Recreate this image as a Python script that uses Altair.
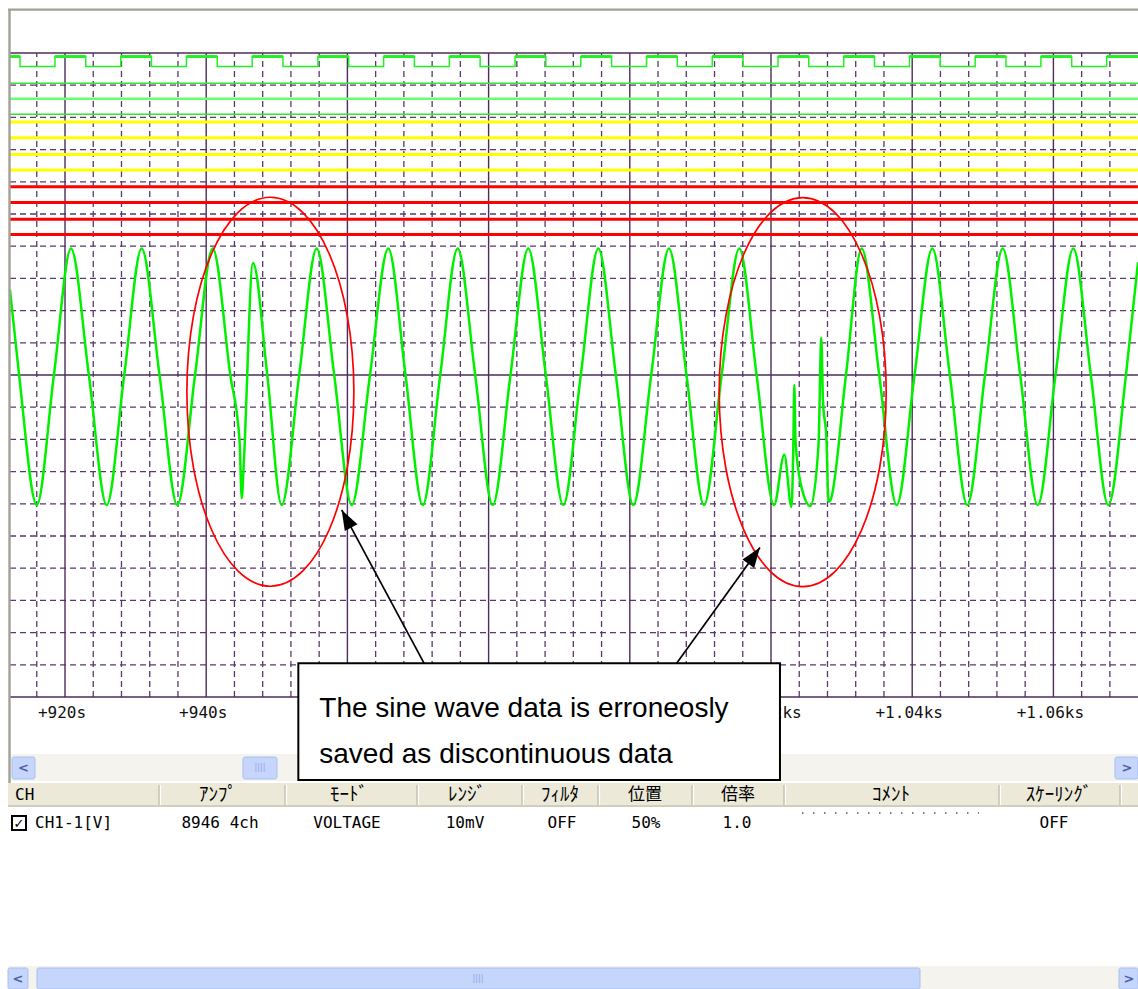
import math
import altair as alt
import pandas as pd

W, H = 1138, 989

# ------------------------------------------------------------------
# DATA
# x = time in seconds, y = screen divisions (centre line 0, top +10, bottom -10)
# ------------------------------------------------------------------
major_t = [920, 940, 960, 980, 1000, 1020, 1040, 1060]
# tick labels that are visible (the others lie under the note box)
label_t = [920, 940, 1020, 1040, 1060]
tick_labels = ["+920s", "+940s", "+1.02ks", "+1.04ks", "+1.06ks"]
minor_t = [916, 924, 928, 932, 936, 944, 948, 952, 956, 964, 968, 972, 976,
           984, 988, 992, 996, 1004, 1008, 1012, 1016, 1024, 1028, 1032, 1036,
           1044, 1048, 1052, 1056, 1064, 1068]
major_v = [10, 0, -10]
minor_v = [9, 8, 7, 6, 5, 4, 3, 2, 1, -1, -2, -3, -4, -5, -6, -7, -8, -9]

t_start, t_end = 912.21, 1071.98

# analog channel (green sine) : extremes, zero crossings and glitch points
sine_points = [
    (912.21, 2.64), (913.5, 0), (916.0, -4.04), (918.43, 0), (920.85, 3.93),
    (923.38, 0), (925.91, -4.04), (928.39, 0), (930.86, 3.93), (933.39, 0),
    (935.91, -4.04), (938.42, 0), (940.92, 3.93),
    # first discontinuity
    (943.41, 0), (944.72, -2.02), (945.04, -3.82), (945.28, -2.95), (946.63, 3.48),
    (948.65, 0), (950.69, -4.04),
    (953.17, 0), (955.65, 3.93), (958.13, 0), (960.61, -4.04), (963.2, 0),
    (965.79, 3.93), (968.23, 0), (970.67, -4.04), (973.15, 0), (975.62, 3.93),
    (978.1, 0), (980.58, -4.04), (983.1, 0), (985.62, 3.93), (988.1, 0),
    (990.58, -4.04), (993.06, 0), (995.54, 3.93), (998.02, 0), (1000.5, -4.04),
    (1003.03, 0), (1005.55, 3.93), (1008.03, 0), (1010.51, -4.04), (1013.01, 0),
    (1015.51, 3.93),
    # second discontinuity
    (1017.96, 0), (1020.43, -4.04), (1021.88, -2.48), (1022.9, -4.10),
    (1023.16, -2.24), (1023.3, -0.31), (1023.47, -2.02), (1024.25, -3.42),
    (1025.6, -4.07), (1026.73, -2.17), (1027.12, 1.15), (1027.36, -0.78),
    (1027.86, -2.02), (1028.14, -3.94), (1028.43, -3.88),
    (1030.62, 0), (1032.85, 3.93), (1035.33, 0), (1037.8, -4.04), (1040.33, 0),
    (1042.85, 3.93), (1045.33, 0), (1047.8, -4.04), (1050.31, 0), (1052.82, 3.93),
    (1055.3, 0), (1057.78, -4.04), (1060.3, 0), (1062.82, 3.93), (1065.3, 0),
    (1067.78, -4.04), (1070.28, 0), (1071.98, 3.5),
]

# logic channel (pulse train) edges
pulse_fall = [913.63, 922.94, 932.25, 941.56, 950.87, 960.18, 969.49, 978.80, 988.11,
              997.42, 1006.73, 1016.04, 1025.35, 1034.66, 1043.97, 1053.28, 1062.59]
pulse_rise = [918.58, 927.89, 937.20, 946.51, 955.82, 965.13, 974.44, 983.75, 993.06,
              1002.37, 1011.68, 1020.99, 1030.30, 1039.61, 1048.92, 1058.23, 1067.54]
pulse_high, pulse_low = 9.89, 9.58

# flat logic traces
green_levels = [9.06, 8.58, 8.10]
yellow_levels = [7.86, 7.37, 6.85, 6.37]
red_levels = [5.85, 5.36, 4.84, 4.36]

header_labels = ["CH", "ｱﾝﾌﾟ", "ﾓｰﾄﾞ", "ﾚﾝｼﾞ", "ﾌｨﾙﾀ", "位置", "倍率", "ｺﾒﾝﾄ", "ｽｹｰﾘﾝｸﾞ"]
row_values = ["CH1-1[V]", "8946 4ch", "VOLTAGE", "10mV", "OFF", "50%", "1.0", "", "OFF"]
note_lines = ["The sine wave data is erroneosly", "saved as discontinuous data"]

# annotation placement (data units)
ellipse_centers = [(949.09, -0.52), (1024.49, -0.53)]
arrow_pairs = [((970.85, -8.95), (959.19, -4.19)), ((1006.64, -8.95), (1018.44, -5.36))]
note_box = dict(t0=953.05, t1=1021.27, v0=-8.95, v1=-12.58)
note_t = 956.02
note_v = [-10.61, -12.06]

# ------------------------------------------------------------------
# LAYOUT / STYLE
# ------------------------------------------------------------------
PX_T920, PX_PER_S, PX_V0, PX_PER_DIV = 65.0, 7.06, 375.0, 32.2
T_LEFT = 920 - PX_T920 / PX_PER_S
T_RIGHT = 920 + (W - PX_T920) / PX_PER_S
V_TOP = PX_V0 / PX_PER_DIV
V_BOTTOM = (PX_V0 - H) / PX_PER_DIV

GRID_MAJOR = "#4e2b5c"
GRID_MINOR = "#5a386b"
MONO = "DejaVu Sans Mono"
JP = "Noto Sans CJK JP"

TX = alt.Scale(domain=[T_LEFT, T_RIGHT], nice=False, zero=False)
VY = alt.Scale(domain=[V_BOTTOM, V_TOP], nice=False, zero=False)
UX = alt.Scale(domain=[0, W], nice=False, zero=False)
UY = alt.Scale(domain=[0, H], nice=False, zero=False, reverse=True)


def X(f):
    return alt.X(f, type="quantitative", scale=TX, axis=None)


def Y(f):
    return alt.Y(f, type="quantitative", scale=VY, axis=None)


def UXe(f):
    return alt.X(f, type="quantitative", scale=UX, axis=None)


def UYe(f):
    return alt.Y(f, type="quantitative", scale=UY, axis=None)


# ---------------- plot group ----------------
vgrid_major = pd.DataFrame({"t": major_t, "v0": -10, "v1": 10})
vgrid_minor = pd.DataFrame({"t": minor_t, "v0": -10, "v1": 10})
hgrid_major = pd.DataFrame({"v": major_v, "t0": t_start, "t1": t_end})
hgrid_minor = pd.DataFrame({"v": minor_v, "t0": t_start, "t1": t_end})

plot_layers = []
plot_layers.append(alt.Chart(hgrid_minor).mark_rule(color=GRID_MINOR, strokeWidth=1.3, strokeDash=[6, 4])
                   .encode(x=X("t0"), x2=alt.X2("t1"), y=Y("v")))
plot_layers.append(alt.Chart(vgrid_minor).mark_rule(color=GRID_MINOR, strokeWidth=1.3, strokeDash=[6, 4])
                   .encode(x=X("t"), y=Y("v0"), y2=alt.Y2("v1")))
plot_layers.append(alt.Chart(hgrid_major).mark_rule(color=GRID_MAJOR, strokeWidth=1.4)
                   .encode(x=X("t0"), x2=alt.X2("t1"), y=Y("v")))
plot_layers.append(alt.Chart(vgrid_major).mark_rule(color=GRID_MAJOR, strokeWidth=1.4)
                   .encode(x=X("t"), y=Y("v0"), y2=alt.Y2("v1")))

# flat traces
level_style = [
    (green_levels, ["#2fe82f", "#6aff6a", "#2fe82f"], [1.6, 2.4, 1.6]),
    (yellow_levels, ["#ffff00"] * 4, [3] * 4),
    (red_levels, ["#ff0000"] * 4, [3] * 4),
]
for levels, colors, widths in level_style:
    for v, c, w in zip(levels, colors, widths):
        df = pd.DataFrame({"v": [v], "t0": [t_start], "t1": [t_end]})
        plot_layers.append(alt.Chart(df).mark_rule(color=c, strokeWidth=w)
                           .encode(x=X("t0"), x2=alt.X2("t1"), y=Y("v")))

# pulse train
events = sorted([(t, pulse_low) for t in pulse_fall] + [(t, pulse_high) for t in pulse_rise])
pulse_rows = [(t_start, pulse_high)] + events + [(t_end, events[-1][1])]
pulse_df = pd.DataFrame(pulse_rows, columns=["t", "v"])
plot_layers.append(alt.Chart(pulse_df).mark_line(color="#22f022", strokeWidth=1.5, interpolate="step-after")
                   .encode(x=X("t"), y=Y("v")))
high_starts = [t_start] + pulse_rise
high_ends = pulse_fall + [t_end]
high_df = pd.DataFrame({"t0": high_starts, "t1": high_ends, "v": pulse_high})
plot_layers.append(alt.Chart(high_df).mark_rule(color="#22f022", strokeWidth=3)
                   .encode(x=X("t0"), x2=alt.X2("t1"), y=Y("v")))

# sine trace
sine_df = pd.DataFrame(sine_points, columns=["t", "v"])
plot_layers.append(alt.Chart(sine_df).mark_line(color="#00f000", strokeWidth=2.5, interpolate="monotone")
                   .encode(x=X("t"), y=Y("v")))

# time labels
lab_df = pd.DataFrame({"t": label_t, "v": -10, "label": tick_labels})
plot_layers.append(alt.Chart(lab_df).mark_text(font=MONO, fontSize=16, color="#111111",
                                               align="center", baseline="middle", dx=-3, dy=15.5)
                   .encode(x=X("t"), y=Y("v"), text="label:N"))

# ellipses
RX, RY = 83.5, 194.5
a = RX / RY
k = 0.5523 * a
kk = 0.5523
ellipse_path = (f"M 0 -1 C {k:.4f} -1 {a:.4f} {-kk:.4f} {a:.4f} 0 "
                f"C {a:.4f} {kk:.4f} {k:.4f} 1 0 1 "
                f"C {-k:.4f} 1 {-a:.4f} {kk:.4f} {-a:.4f} 0 "
                f"C {-a:.4f} {-kk:.4f} {-k:.4f} -1 0 -1 Z")
ell_df = pd.DataFrame(ellipse_centers, columns=["t", "v"])
plot_layers.append(alt.Chart(ell_df).mark_point(shape=ellipse_path, size=(2 * RY) ** 2, filled=False,
                                                color="#ff0000", strokeWidth=1.7, opacity=1)
                   .encode(x=X("t"), y=Y("v")))

# note box
box_df = pd.DataFrame([note_box])
plot_layers.append(alt.Chart(box_df).mark_rect(fill="white", stroke="black", strokeWidth=2)
                   .encode(x=X("t0"), x2=alt.X2("t1"), y=Y("v0"), y2=alt.Y2("v1")))

# arrows
arr_rows = []
for (t0, v0), (t1, v1) in arrow_pairs:
    dxp = (t1 - t0) * PX_PER_S
    dyp = -(v1 - v0) * PX_PER_DIV
    ang = math.degrees(math.atan2(dxp, -dyp)) % 360
    arr_rows.append(dict(t0=t0, v0=v0, t1=t1, v1=v1, angle=ang))
arr_df = pd.DataFrame(arr_rows)
plot_layers.append(alt.Chart(arr_df).mark_rule(color="black", strokeWidth=1.7)
                   .encode(x=X("t0"), y=Y("v0"), x2=alt.X2("t1"), y2=alt.Y2("v1")))
plot_layers.append(alt.Chart(arr_df).mark_point(shape="M 0 0 L 0.36 1 L -0.36 1 Z", size=1600,
                                                filled=True, color="black", opacity=1, strokeWidth=0)
                   .encode(x=X("t1"), y=Y("v1"), angle=alt.Angle("angle:Q", scale=None)))

# note text
note_df = pd.DataFrame({"t": note_t, "v": note_v, "txt": note_lines})
plot_layers.append(alt.Chart(note_df).mark_text(font="Liberation Sans", fontSize=28, color="black",
                                                align="left", baseline="alphabetic")
                   .encode(x=X("t"), y=Y("v"), text="txt:N"))

plot = alt.layer(*plot_layers)

# ---------------- UI group (pixel layout) ----------------
flat_rects = pd.DataFrame([
    dict(x=10, x2=W, y=754, y2=781, fill="#f4f3ee"),
    dict(x=8, x2=W, y=783, y2=807, fill="#ece9d8"),
    dict(x=8, x2=W, y=966, y2=H, fill="#f4f3ee"),
])
buttons = pd.DataFrame([
    dict(x=12, x2=35, y=757, y2=779), dict(x=243, x2=277, y=757, y2=779), dict(x=1115, x2=W, y=757, y2=779),
    dict(x=8, x2=28, y=968, y2=H), dict(x=37, x2=920, y=968, y2=H), dict(x=1119, x2=W, y=968, y2=H),
])
chevrons = pd.DataFrame([
    dict(x=23.5, y=768, s="<"), dict(x=1127, y=768, s=">"),
    dict(x=18, y=978.5, s="<"), dict(x=1129, y=978.5, s=">"),
])
grips = pd.DataFrame([dict(x=260, y=768, s="||||"), dict(x=478, y=978.5, s="||||")])
sep_x = [159, 285, 417, 522, 598, 692, 784, 999, 1120]
seps = pd.DataFrame({"x": sep_x, "y": 785, "y2": 806})
seps_w = pd.DataFrame({"x": [s + 1.5 for s in sep_x], "y": 785, "y2": 806})
header_bottom = pd.DataFrame({"x": [8], "x2": [W], "y": [806]})

col_centers = [None, 218, 349, 467, 560, 645, 738, 891, 1059]
row_centers = [None, 220, 347, 465, 562, 646, 737, None, 1054]
kanji_cols = {5, 6}
hdr_kana = pd.DataFrame([dict(x=c, y=795, s=s) for i, (c, s) in enumerate(zip(col_centers, header_labels))
                         if c is not None and i not in kanji_cols])
hdr_kanji = pd.DataFrame([dict(x=c, y=795, s=s) for i, (c, s) in enumerate(zip(col_centers, header_labels))
                          if c is not None and i in kanji_cols])
hdr_l = pd.DataFrame([dict(x=15, y=795, s=header_labels[0])])
row_c = pd.DataFrame([dict(x=c, y=823, s=s) for c, s in zip(row_centers, row_values) if c is not None and s])
row_l = pd.DataFrame([dict(x=35, y=823, s=row_values[0])])
checkbox = pd.DataFrame([dict(x=12, x2=26, y=816, y2=830)])
check = pd.DataFrame([dict(x=19, y=823.5, s="✓")])
dots = pd.DataFrame([dict(x=802, x2=979, y=813)])

ui_layers = [
    alt.Chart(flat_rects).mark_rect().encode(x=UXe("x"), x2=alt.X2("x2"), y=UYe("y"), y2=alt.Y2("y2"),
                                             color=alt.Color("fill:N", scale=None)),
    alt.Chart(buttons).mark_rect(fill="#c5d5fb", stroke="#a9bff0", strokeWidth=1, cornerRadius=2)
    .encode(x=UXe("x"), x2=alt.X2("x2"), y=UYe("y"), y2=alt.Y2("y2")),
    alt.Chart(chevrons).mark_text(font="DejaVu Sans", fontSize=13, fontWeight="bold", color="#4b63a0",
                                  align="center", baseline="middle")
    .encode(x=UXe("x"), y=UYe("y"), text="s:N"),
    alt.Chart(grips).mark_text(font="DejaVu Sans", fontSize=8, color="#8ea6e6", align="center", baseline="middle")
    .encode(x=UXe("x"), y=UYe("y"), text="s:N"),
    alt.Chart(seps).mark_rule(color="#bdb9a8", strokeWidth=1.2).encode(x=UXe("x"), y=UYe("y"), y2=alt.Y2("y2")),
    alt.Chart(seps_w).mark_rule(color="#ffffff", strokeWidth=1.2).encode(x=UXe("x"), y=UYe("y"), y2=alt.Y2("y2")),
    alt.Chart(header_bottom).mark_rule(color="#d2cebe", strokeWidth=2).encode(x=UXe("x"), x2=alt.X2("x2"), y=UYe("y")),
    alt.Chart(hdr_kana).mark_text(font=JP, fontSize=19, color="black", align="center", baseline="middle")
    .encode(x=UXe("x"), y=UYe("y"), text="s:N"),
    alt.Chart(hdr_kanji).mark_text(font=JP, fontSize=17, color="black", align="center", baseline="middle")
    .encode(x=UXe("x"), y=UYe("y"), text="s:N"),
    alt.Chart(hdr_l).mark_text(font=MONO, fontSize=16, color="black", align="left", baseline="middle")
    .encode(x=UXe("x"), y=UYe("y"), text="s:N"),
    alt.Chart(row_c).mark_text(font=MONO, fontSize=16, color="black", align="center", baseline="middle")
    .encode(x=UXe("x"), y=UYe("y"), text="s:N"),
    alt.Chart(row_l).mark_text(font=MONO, fontSize=16, color="black", align="left", baseline="middle")
    .encode(x=UXe("x"), y=UYe("y"), text="s:N"),
    alt.Chart(checkbox).mark_rect(fill="white", stroke="black", strokeWidth=2)
    .encode(x=UXe("x"), x2=alt.X2("x2"), y=UYe("y"), y2=alt.Y2("y2")),
    alt.Chart(check).mark_text(font="DejaVu Sans", fontSize=13, fontWeight="bold", color="black",
                               align="center", baseline="middle")
    .encode(x=UXe("x"), y=UYe("y"), text="s:N"),
    alt.Chart(dots).mark_rule(color="#555555", strokeWidth=1.4, strokeDash=[1.5, 9.5])
    .encode(x=UXe("x"), x2=alt.X2("x2"), y=UYe("y")),
]
ui = alt.layer(*ui_layers)

frame_df_h = pd.DataFrame([dict(x=8, x2=W, y=9.6)])
frame_df_v = pd.DataFrame([dict(x=9.5, y=9, y2=783)])
frame = alt.layer(
    alt.Chart(frame_df_h).mark_rule(color="#a3a095", strokeWidth=2.4).encode(x=UXe("x"), x2=alt.X2("x2"), y=UYe("y")),
    alt.Chart(frame_df_v).mark_rule(color="#a3a095", strokeWidth=2.4).encode(x=UXe("x"), y=UYe("y"), y2=alt.Y2("y2")),
)

chart = (
    alt.layer(ui, plot, frame)
    .resolve_scale(x="independent", y="independent")
    .properties(width=W, height=H, autosize=alt.AutoSizeParams(type="none"), padding=0, background="white")
    .configure_view(strokeWidth=0)
)

chart.save("out.html", embed_options={"renderer": "svg", "actions": False})
